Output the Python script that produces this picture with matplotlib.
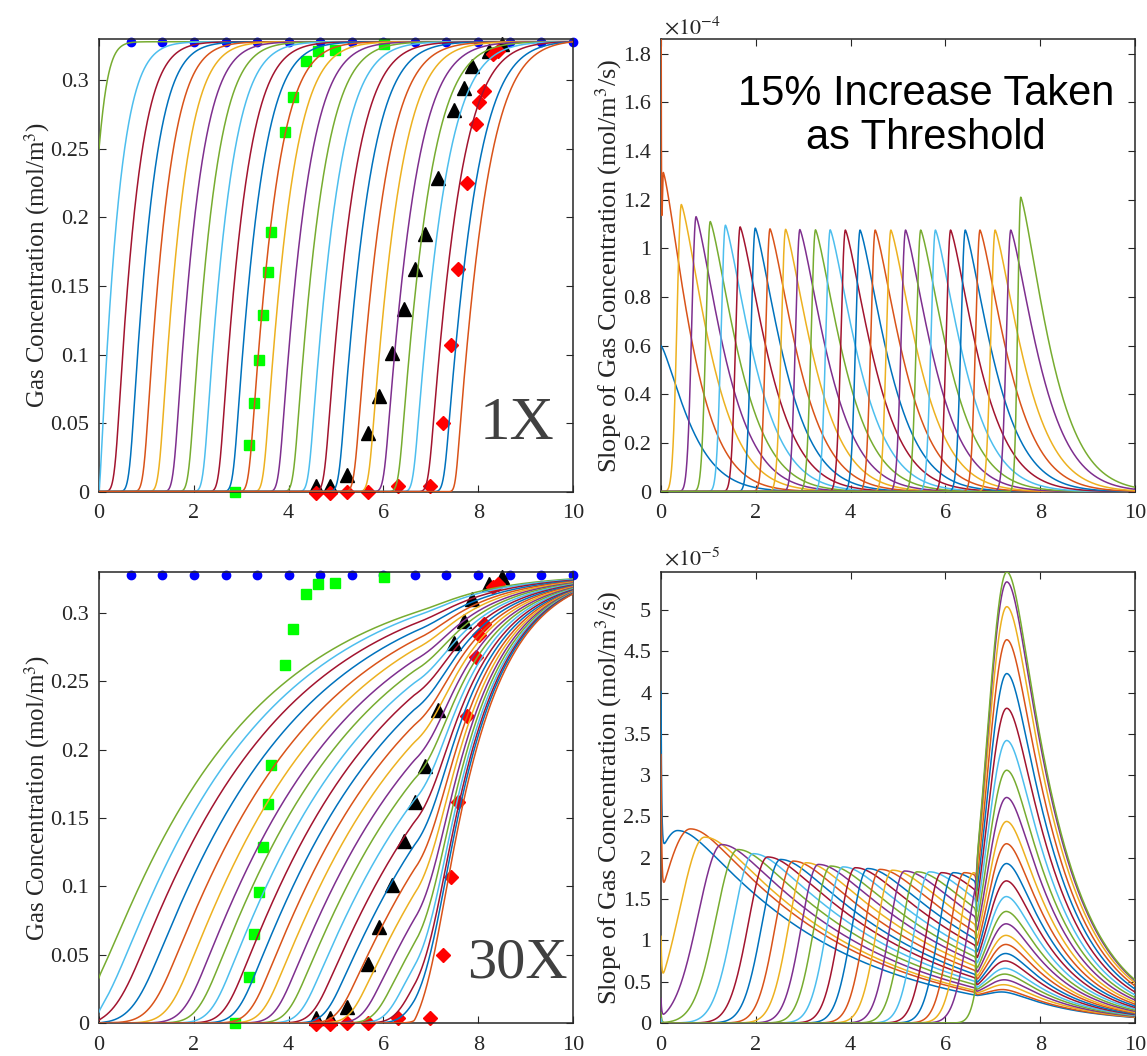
"""
Gas concentration breakthrough curves and their slopes, 1X and 30X cases.
"""
import numpy as np
import matplotlib
matplotlib.use("Agg")
import matplotlib.pyplot as plt

plt.rcParams["font.family"] = ["Liberation Serif", "DejaVu Serif"]
plt.rcParams["mathtext.fontset"] = "stix"

# MATLAB default colour order
colors = ["#0072BD", "#D95319", "#EDB120", "#7E2F8E", "#77AC30", "#4DBEEE", "#A2142F"]

# ---- measured points (same in both concentration panels) ----
dot_x = [0.67, 1.33, 2.0, 2.67, 3.33, 4.0, 4.67, 5.33, 6.0, 6.67, 7.33, 8.0, 8.67, 9.33, 10.0]
dot_y = [0.328, 0.328, 0.328, 0.328, 0.328, 0.328, 0.328, 0.328, 0.328, 0.328, 0.328, 0.328, 0.328, 0.328, 0.328]
sq_x = [2.86, 3.16, 3.26, 3.37, 3.46, 3.56, 3.63, 3.93, 4.09, 4.37, 4.63, 4.97, 6.02]
sq_y = [0.0, 0.034, 0.065, 0.096, 0.129, 0.160, 0.189, 0.262, 0.288, 0.314, 0.321, 0.322, 0.326]
tri_x = [4.57, 4.88, 5.24, 5.67, 5.91, 6.19, 6.44, 6.66, 6.88, 7.16, 7.49, 7.70, 7.86, 8.23, 8.50]
tri_y = [0.004, 0.004, 0.012, 0.043, 0.070, 0.101, 0.133, 0.162, 0.188, 0.229, 0.278, 0.294, 0.310, 0.321, 0.326]
dia_x = [4.57, 4.87, 5.24, 5.67, 6.31, 6.99, 7.26, 7.43, 7.58, 7.76, 7.96, 8.02, 8.13, 8.31, 8.42]
dia_y = [-0.001, -0.001, 0.0, 0.0, 0.004, 0.004, 0.050, 0.107, 0.162, 0.225, 0.268, 0.284, 0.292, 0.319, 0.321]

# ---- 1X slope pulses (x1e-4) ----
peak_x_1x = [0.0, 0.05, 0.43, 0.74, 1.04, 1.36, 1.67, 1.99, 2.30, 2.63, 2.93, 3.26, 3.57,
             3.89, 4.20, 4.52, 4.85, 5.16, 5.48, 5.79, 6.11, 6.42, 6.73, 7.05, 7.38, 7.59]
peak_h_1x = [0.60, 1.31, 1.18, 1.13, 1.11, 1.095, 1.088, 1.083, 1.080, 1.078, 1.077, 1.076, 1.076,
             1.075, 1.075, 1.075, 1.075, 1.075, 1.075, 1.075, 1.075, 1.075, 1.075, 1.075, 1.075, 1.21]
rise_w_1x = [0.05, 0.06] + [0.13] * 23 + [0.09]
fall_w_1x = [0.75, 0.75] + [0.80] * 24
spike_1x = [0.0, 2.0] + [0.0] * 24

# ---- 1X concentration curves (top-left): start value and approach width per curve ----
conc0_1x = [0.25] + [0.0] * 25
conc_fall_1x = [0.22, 0.48, 0.52, 0.54, 0.56, 0.57, 0.58, 0.59, 0.60, 0.61, 0.62, 0.63, 0.64,
                0.65, 0.66, 0.67, 0.68, 0.69, 0.70, 0.70, 0.71, 0.71, 0.72, 0.72, 0.73, 0.73]
conc_end_1x = 0.328

# ---- 30X slope curves (x1e-5) ----
hump_x_30x = [0.35, 0.62, 0.92, 1.28, 1.62, 1.95, 2.25, 2.52, 2.79, 3.06, 3.32, 3.58, 3.84,
              4.10, 4.36, 4.62, 4.88, 5.14, 5.40, 5.66, 5.92, 6.17, 6.40, 6.60, 6.78, 7.00]
hump_h_30x = [2.33, 2.35, 2.25, 2.16, 2.10, 2.05, 2.01, 1.98, 1.96, 1.94, 1.92, 1.90, 1.89,
              1.88, 1.87, 1.86, 1.85, 1.84, 1.83, 1.83, 1.82, 1.82, 1.82, 1.82, 1.82, 1.82]
rise_w_30x = [1.0, 0.96, 0.75, 0.70, 0.65, 0.60, 0.57, 0.55, 0.53, 0.52, 0.51, 0.50, 0.49,
              0.48, 0.48, 0.47, 0.47, 0.46, 0.46, 0.45, 0.45, 0.45, 0.44, 0.44, 0.44, 0.30]
spike_30x = [1.95, 1.70, 0.55, 0.22, 0.12, 0.05] + [0.0] * 20
late_h_30x = [0.37, 0.40, 0.46, 0.52, 0.59, 0.66, 0.75, 0.84, 0.95, 1.06, 1.20, 1.35, 1.53,
              1.72, 1.93, 2.17, 2.44, 2.73, 3.06, 3.42, 3.81, 4.23, 4.64, 5.04, 5.34, 5.46]
conc0_30x = [0.033, 0.008, 0.002] + [0.0] * 23
conc_end_30x = [0.325, 0.3245, 0.324, 0.3235, 0.323, 0.3225, 0.322, 0.3215, 0.321, 0.3205,
                0.320, 0.3195, 0.319, 0.3185, 0.318, 0.3175, 0.317, 0.3165, 0.316, 0.3157,
                0.3154, 0.3151, 0.3148, 0.3145, 0.3142, 0.314]

x = np.linspace(0, 10, 10001)


def pulse(x0, h, rise, fall, q=1.3):
    d = x - x0
    left = np.exp(-(np.minimum(d, 0) / rise) ** 2)
    right = np.exp(-(np.maximum(d, 0) / fall) ** q)
    return h * np.where(d < 0, left, right)


def smooth_decay(d, tau, c):
    dd = np.maximum(d, 0)
    return np.exp(-(np.sqrt(dd ** 2 + c ** 2) - c) / tau)


def slope_30x(k):
    d = x - hump_x_30x[k]
    first = hump_h_30x[k] * np.where(d < 0, np.exp(-(np.minimum(d, 0) / rise_w_30x[k]) ** 2),
                                     smooth_decay(d, 3.0, 0.5))
    first = first + spike_30x[k] * np.exp(-x / 0.015)
    # second regime after the break at 6.65
    base = 0.28 * np.exp(-(x - 6.65) / 2.0)
    amp = late_h_30x[k] - 0.28 * np.exp(-(7.3 - 6.65) / 2.0)
    d2 = x - 7.3
    second = base + amp * np.where(d2 < 0, np.exp(-(np.minimum(d2, 0) / 0.6) ** 2),
                                   smooth_decay(d2, 1.0, 0.3))
    w = 1 / (1 + np.exp(-(x - 6.65) / 0.008))
    return (1 - w) * first + w * second


def conc(s, c0, c1):
    cum = np.concatenate([[0], np.cumsum((s[1:] + s[:-1]) / 2)])
    return c0 + (c1 - c0) * cum / cum[-1]


slopes_1x = [pulse(peak_x_1x[k], peak_h_1x[k], rise_w_1x[k], fall_w_1x[k])
             + spike_1x[k] * np.exp(-x / 0.007) for k in range(26)]
conc_1x = [conc(pulse(peak_x_1x[k], peak_h_1x[k], rise_w_1x[k], conc_fall_1x[k]),
                conc0_1x[k], conc_end_1x) for k in range(26)]
slopes_30x = [slope_30x(k) for k in range(26)]
conc_30x = [conc(slopes_30x[k], conc0_30x[k], conc_end_30x[k]) for k in range(26)]

fig = plt.figure(figsize=(11.47, 10.56), dpi=100)
W, H = 1147, 1056
boxes = {
    "tl": [99 / W, 1 - 491.7 / H, 474 / W, 452.7 / H],
    "tr": [661 / W, 1 - 491.7 / H, 474 / W, 452.7 / H],
    "bl": [99 / W, 1 - 1023 / H, 474 / W, 451 / H],
    "br": [661 / W, 1 - 1023 / H, 474 / W, 451 / H],
}
axes = {key: fig.add_axes(b) for key, b in boxes.items()}

for ax in axes.values():
    ax.set_xlim(0, 10)
    ax.set_xticks(range(0, 11, 2))
    ax.tick_params(direction="in", top=True, right=True, length=5, width=0.8,
                   labelsize=16, colors="#262626", pad=7)
    ax.tick_params(axis="x", pad=9)
    for sp in ax.spines.values():
        sp.set_linewidth(1.1)
        sp.set_color("#262626")


def add_markers(ax):
    kw = dict(linestyle="none", clip_on=False, zorder=2.2)
    ax.plot(dot_x, dot_y, "o", color="#0000FF", markersize=6, **kw)
    ax.plot(sq_x, sq_y, "s", color="#00FF00", markersize=7.5, **kw)
    ax.plot(tri_x, tri_y, "^", color="black", markersize=10, **kw)
    ax.plot(dia_x, dia_y, "D", color="#FF0000", markersize=7.5, **kw)


conc_ticks = [0, 0.05, 0.1, 0.15, 0.2, 0.25, 0.3]
conc_labels = ["0", "0.05", "0.1", "0.15", "0.2", "0.25", "0.3"]

# top-left: 1X concentration
ax = axes["tl"]
add_markers(ax)
for k in range(26):
    ax.plot(x, conc_1x[k], color=colors[(k + 4) % 7], lw=1.1, zorder=3)
ax.set_ylim(0, 0.33)
ax.set_yticks(conc_ticks)
ax.set_yticklabels(conc_labels)
ax.set_ylabel("Gas Concentration (mol/m$^3$)", fontsize=18, color="#262626")
ax.yaxis.set_label_coords(-0.099, 0.5)
fig.text(517 / W, 1 - 424 / H, "1X", fontsize=44, color="#404040", ha="center", va="center")

# top-right: 1X slope
ax = axes["tr"]
for k in range(26):
    ax.plot(x, slopes_1x[k], color=colors[k % 7], lw=1.1, zorder=3)
ax.set_ylim(0, 1.86)
ax.set_yticks([0, 0.2, 0.4, 0.6, 0.8, 1.0, 1.2, 1.4, 1.6, 1.8])
ax.set_yticklabels(["0", "0.2", "0.4", "0.6", "0.8", "1", "1.2", "1.4", "1.6", "1.8"])
ax.set_ylabel("Slope of Gas Concentration (mol/m$^3$/s)", fontsize=19, color="#262626")
ax.yaxis.set_label_coords(-0.079, 0.5)
fig.text(664 / W, 1 - 34 / H, r"$\times10^{-4}$", fontsize=16, color="#262626", va="baseline")
fig.text(926 / W, 1 - 116 / H, "15% Increase Taken\nas Threshold", fontsize=30,
         family=["Liberation Sans", "DejaVu Sans"], ha="center", va="center", linespacing=1.1)

# bottom-left: 30X concentration
ax = axes["bl"]
add_markers(ax)
for k in range(26):
    ax.plot(x, conc_30x[k], color=colors[(k + 4) % 7], lw=1.1, zorder=3)
ax.set_ylim(0, 0.33)
ax.set_yticks(conc_ticks)
ax.set_yticklabels(conc_labels)
ax.set_ylabel("Gas Concentration (mol/m$^3$)", fontsize=18, color="#262626")
ax.yaxis.set_label_coords(-0.099, 0.5)
fig.text(517 / W, 1 - 963 / H, "30X", fontsize=42, color="#404040", ha="center", va="center")

# bottom-right: 30X slope
ax = axes["br"]
for k in range(26):
    ax.plot(x, slopes_30x[k], color=colors[k % 7], lw=1.1, zorder=3)
ax.set_ylim(0, 5.46)
ax.set_yticks([0, 0.5, 1, 1.5, 2, 2.5, 3, 3.5, 4, 4.5, 5])
ax.set_yticklabels(["0", "0.5", "1", "1.5", "2", "2.5", "3", "3.5", "4", "4.5", "5"])
ax.set_ylabel("Slope of Gas Concentration (mol/m$^3$/s)", fontsize=19, color="#262626")
ax.yaxis.set_label_coords(-0.079, 0.5)
fig.text(664 / W, 1 - 565 / H, r"$\times10^{-5}$", fontsize=16, color="#262626", va="baseline")

fig.savefig("out.png", dpi=100, facecolor="white")
